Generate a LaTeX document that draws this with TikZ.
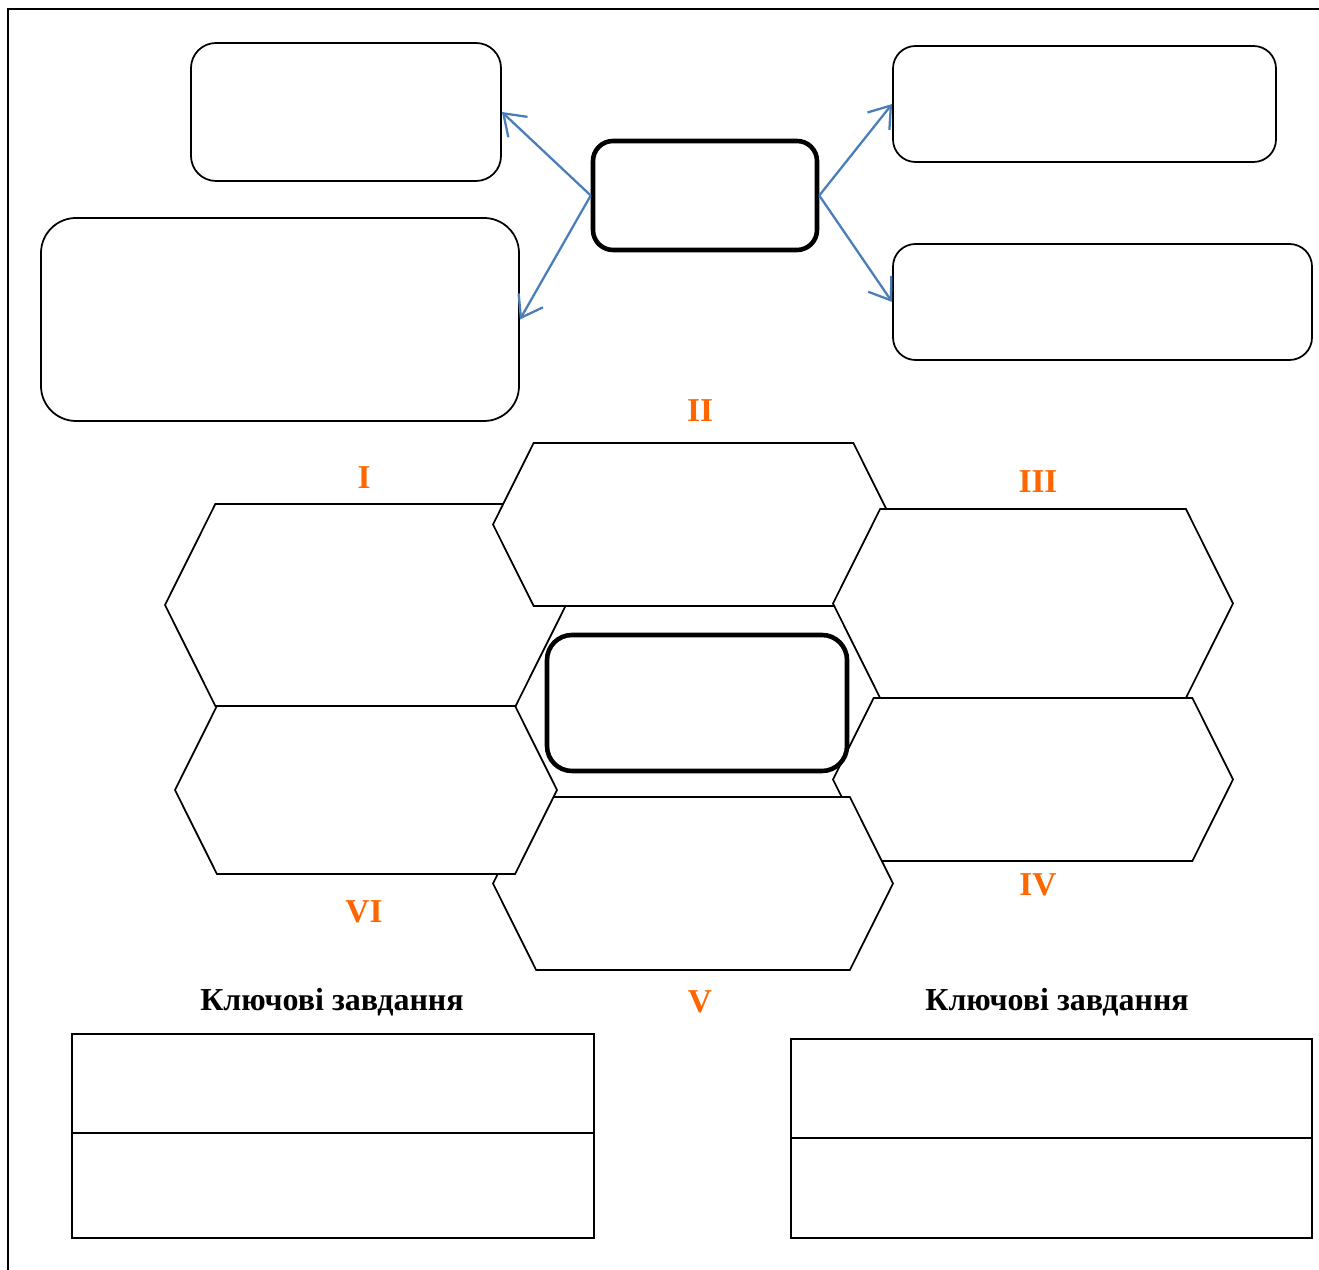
\documentclass[tikz,border=0pt]{standalone}
\usepackage{fontspec}
\setmainfont{Liberation Serif}
\usetikzlibrary{shapes.symbols,arrows.meta}
\definecolor{numorange}{RGB}{255,102,0}
\definecolor{arrowblue}{RGB}{74,126,187}
\begin{document}
\begin{tikzpicture}
 \tikzset{rbox/.style={draw, rounded corners=0.45cm, line width=1pt},
  centrebox/.style={draw, fill=white, rounded corners=0.45cm, line width=2.6pt},
  hexa/.style={draw, fill=white, signal, signal to=east and west, signal pointer angle=127, inner sep=0pt, line width=1pt},
  cell/.style={draw, line width=1.1pt, minimum width=10.44cm, inner sep=0pt},
  num/.style={text=numorange, font=\fontsize{19}{22}\selectfont\bfseries},
  title/.style={font=\fontsize{18.2}{21}\selectfont\bfseries},
  directed/.style={-{Straight Barb[length=4mm,width=5.6mm]}, arrowblue, line width=1.3pt}}
  \useasboundingbox (0,0) rectangle (26.38,25.4);
  \draw[line width=1.1pt] (0.16,0) -- (0.16,25.22) -- (26.38,25.22);
  \node[rbox, minimum width=6.2cm, minimum height=2.76cm, rounded corners=0.5cm] (A) at (6.92,23.16) {};
  \node[rbox, minimum width=9.56cm, minimum height=4.06cm, rounded corners=0.7cm] (B) at (5.6,19.01) {};
  \node[centrebox, minimum width=4.48cm, minimum height=2.18cm, rounded corners=0.4cm] (C) at (14.1,21.49) {};
  \node[rbox, minimum width=7.66cm, minimum height=2.32cm] (D) at (21.69,23.32) {};
  \node[rbox, minimum width=8.38cm, minimum height=2.32cm] (E) at (22.05,19.36) {};
  \draw[directed] (C.west) -- (A.east);
  \draw[directed] (C.west) -- (B.east);
  \draw[directed] (C.east) -- (D.west);
  \draw[directed] (C.east) -- (E.west);
  \node[hexa, minimum width=8.02cm, minimum height=4.04cm] (H1) at (7.31,13.3) {};
  \node[hexa, minimum width=8.02cm, minimum height=3.26cm] (H2) at (13.87,14.91) {};
  \node[hexa, minimum width=8.0cm, minimum height=3.78cm] (H3) at (20.66,13.33) {};
  \node[hexa, minimum width=8.0cm, minimum height=3.26cm] (H4) at (20.66,9.81) {};
  \node[hexa, minimum width=8.0cm, minimum height=3.46cm] (H5) at (13.86,7.73) {};
  \node[hexa, minimum width=7.64cm, minimum height=3.36cm] (H6) at (7.32,9.6) {};
  \node[centrebox, minimum width=6.0cm, minimum height=2.72cm, rounded corners=0.5cm] (F) at (13.94,11.34) {};
  \node[num] (n1) at (7.28,15.84) {I};
  \node[num] (n2) at (14.0,17.18) {II};
  \node[num] (n3) at (20.76,15.76) {III};
  \node[num] (n4) at (20.76,7.7) {IV};
  \node[num] (n5) at (14.0,5.36) {V};
  \node[num] (n6) at (7.28,7.16) {VI};
  \node[title] (T1) at (6.64,5.36) {Ключові завдання};
  \node[title] (T2) at (21.14,5.36) {Ключові завдання};
  \node[cell, minimum height=1.98cm] (L1) at (6.66,3.73) {};
  \node[cell, minimum height=2.1cm] (L2) at (6.66,1.69) {};
  \node[cell, minimum height=1.98cm, minimum width=10.42cm] (R1) at (21.03,3.63) {};
  \node[cell, minimum height=2.0cm, minimum width=10.42cm] (R2) at (21.03,1.64) {};
\end{tikzpicture}
\end{document}
